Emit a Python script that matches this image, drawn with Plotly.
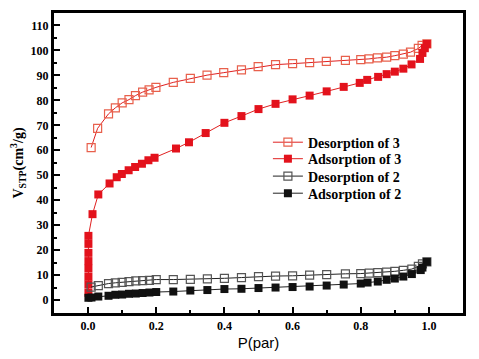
import plotly.graph_objects as go

# Desorption of 3
des3_p = [0.009, 0.028, 0.06, 0.08, 0.10, 0.12, 0.139, 0.16, 0.179, 0.199, 0.25, 0.30, 0.349, 0.398,
          0.45, 0.499, 0.55, 0.60, 0.65, 0.699, 0.755, 0.80, 0.824, 0.849, 0.876, 0.90, 0.925, 0.946,
          0.969, 0.98, 0.994]
des3_v = [61.1, 68.8, 74.6, 77.0, 79.0, 80.3, 81.9, 83.3, 84.2, 85.2, 87.2, 88.8, 90.1, 91.1,
          92.2, 93.5, 94.3, 94.7, 95.1, 95.6, 96.0, 96.3, 96.6, 97.0, 97.3, 97.9, 98.5, 99.3,
          100.8, 102.0, 102.6]

# Adsorption of 3
ads3_p = [0.001, 0.001, 0.001, 0.001, 0.001, 0.001, 0.001, 0.001, 0.013, 0.03, 0.063, 0.084, 0.099,
          0.119, 0.138, 0.158, 0.177, 0.195, 0.258, 0.296, 0.345, 0.40, 0.45, 0.50, 0.55, 0.60,
          0.65, 0.70, 0.75, 0.797, 0.819, 0.851, 0.876, 0.90, 0.925, 0.949, 0.974, 0.981, 0.988, 0.994]
ads3_v = [2.9, 6.2, 9.3, 12.6, 15.6, 18.9, 22.5, 25.7, 34.4, 42.3, 46.7, 49.2, 50.5,
          52.0, 53.3, 54.6, 56.0, 57.0, 60.7, 63.2, 66.9, 71.0, 73.7, 76.5, 78.6, 80.4,
          81.9, 83.6, 85.4, 87.0, 88.2, 89.4, 90.5, 91.5, 92.7, 94.4, 96.6, 99.0, 100.9, 102.6]

# Desorption of 2
des2_p = [0.009, 0.03, 0.06, 0.08, 0.10, 0.12, 0.14, 0.16, 0.18, 0.20, 0.25, 0.30, 0.35, 0.40,
          0.45, 0.50, 0.55, 0.60, 0.65, 0.70, 0.755, 0.80, 0.825, 0.85, 0.876, 0.90, 0.925, 0.95,
          0.969, 0.981, 0.994]
des2_v = [5.2, 5.8, 6.6, 6.9, 7.1, 7.4, 7.7, 7.8, 7.9, 8.2, 8.2, 8.3, 8.5, 8.7,
          9.0, 9.4, 9.6, 9.7, 10.0, 10.2, 10.5, 10.6, 10.8, 11.0, 11.2, 11.5, 11.9, 12.4,
          13.5, 14.5, 15.3]

# Adsorption of 2
ads2_p = [0.001, 0.01, 0.03, 0.06, 0.08, 0.10, 0.12, 0.14, 0.16, 0.18, 0.20, 0.25, 0.30, 0.35,
          0.40, 0.45, 0.50, 0.55, 0.60, 0.65, 0.70, 0.75, 0.80, 0.82, 0.85, 0.876, 0.90, 0.925,
          0.95, 0.976, 0.981, 0.994]
ads2_v = [0.9, 1.0, 1.4, 1.7, 2.1, 2.2, 2.5, 2.6, 2.8, 3.0, 3.2, 3.4, 3.8, 4.0,
          4.4, 4.5, 4.8, 5.0, 5.2, 5.4, 5.8, 6.2, 6.6, 7.0, 7.4, 8.1, 8.6, 9.4,
          10.4, 12.0, 13.0, 15.3]

x_ticks = [0.0, 0.2, 0.4, 0.6, 0.8, 1.0]
y_ticks = [0, 10, 20, 30, 40, 50, 60, 70, 80, 90, 100, 110]

serif = "Liberation Serif, Times New Roman, serif"
leg_font = dict(family=serif, size=14, color="black")

fig = go.Figure()
fig.add_trace(go.Scatter(x=des3_p, y=des3_v, mode="lines+markers", name="<b>Desorption of 3</b>",
                         legend="legend",
                         line=dict(color="#e02020", width=1),
                         marker=dict(symbol="square-open", size=8, color="#e8604c",
                                     line=dict(width=1.2))))
fig.add_trace(go.Scatter(x=ads3_p, y=ads3_v, mode="lines+markers", name="<b>Adsorption of 3</b>",
                         legend="legend2",
                         line=dict(color="#e02020", width=1),
                         marker=dict(symbol="square", size=8, color="#e3121c")))
fig.add_trace(go.Scatter(x=des2_p, y=des2_v, mode="lines+markers", name="<b>Desorption of 2</b>",
                         legend="legend3",
                         line=dict(color="#222222", width=1),
                         marker=dict(symbol="square-open", size=8, color="#555555",
                                     line=dict(width=1.2))))
fig.add_trace(go.Scatter(x=ads2_p, y=ads2_v, mode="lines+markers", name="<b>Adsorption of 2</b>",
                         legend="legend4",
                         line=dict(color="#222222", width=1),
                         marker=dict(symbol="square", size=8, color="#111111")))

def leg(y):
    return dict(x=0.523, y=y, xanchor="left", yanchor="middle",
                bgcolor="rgba(0,0,0,0)", borderwidth=0, font=leg_font, itemwidth=30)

fig.update_layout(
    width=471, height=351,
    margin=dict(l=46, r=16, t=2, b=46),
    plot_bgcolor="white", paper_bgcolor="white",
    showlegend=True,
    legend=leg(0.568), legend2=leg(0.513), legend3=leg(0.455), legend4=leg(0.398),
    xaxis=dict(range=[-0.1, 1.1], tickvals=x_ticks,
               ticktext=["<b>%.1f</b>" % v for v in x_ticks],
               showgrid=False, zeroline=False,
               showline=True, linewidth=3, linecolor="black", mirror=True,
               ticks="inside", ticklen=6, tickwidth=2, tickcolor="black",
               minor=dict(ticks="inside", ticklen=3, tickwidth=2, dtick=0.1, tickcolor="black"),
               tickfont=dict(family=serif, size=12, color="black"),
               title=dict(text="P(par)", font=dict(family="Liberation Sans, Arial, sans-serif",
                                                   size=15, color="black"), standoff=6)),
    yaxis=dict(range=[-5.2, 115], tickvals=y_ticks,
               ticktext=["<b>%d</b>" % v for v in y_ticks],
               showgrid=False, zeroline=False,
               showline=True, linewidth=3, linecolor="black", mirror=True,
               ticks="inside", ticklen=6, tickwidth=2, tickcolor="black",
               minor=dict(ticks="inside", ticklen=3, tickwidth=2, dtick=5, tickcolor="black"),
               tickfont=dict(family=serif, size=12, color="black"),
               title=dict(text="<b>V<sub>STP</sub>(cm<sup>3</sup>/g)</b>",
                          font=dict(family=serif, size=14, color="black"), standoff=6)),
)

fig.write_html("out.html")
